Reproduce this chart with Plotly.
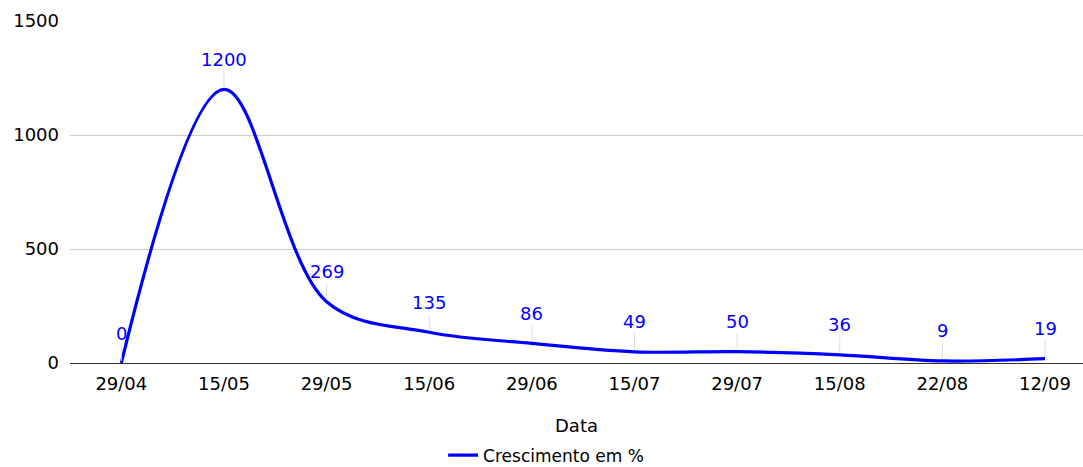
import plotly.graph_objects as go

categories = ["29/04", "15/05", "29/05", "15/06", "29/06", "15/07", "29/07", "15/08", "22/08", "12/09"]
values = [0, 1200, 269, 135, 86, 49, 50, 36, 9, 19]
series_name = "Crescimento em %"

FONT = "DejaVu Sans, Liberation Sans, Arial"

fig = go.Figure()
fig.add_trace(go.Scatter(
    x=categories, y=values, mode="lines", name=series_name,
    line=dict(color="#0000ff", width=3.2, shape="spline", smoothing=1.0),
    showlegend=True,
))

for c, v in zip(categories, values):
    fig.add_annotation(
        x=c, y=v, text=str(v), showarrow=True, arrowhead=0, arrowwidth=1,
        arrowcolor="#dddddd", ax=0, ay=-30, standoff=2,
        font=dict(color="#0000ff", size=18, family=FONT),
    )

fig.update_layout(
    width=1083, height=467,
    margin=dict(l=70, r=0, t=21, b=104, autoexpand=False),
    paper_bgcolor="white", plot_bgcolor="white",
    font=dict(family=FONT, size=18, color="#000000"),
    xaxis=dict(
        type="category", range=[-0.5, 9.37], automargin=False,
        showgrid=False, showline=True, linecolor="#333333", linewidth=1,
        ticks="", tickfont=dict(size=18), ticklabelstandoff=4,
        title=dict(text="Data", font=dict(size=18), standoff=26),
    ),
    yaxis=dict(
        range=[0, 1500], tickvals=[0, 500, 1000, 1500], automargin=False,
        showgrid=True, gridcolor="#cccccc", gridwidth=1,
        zeroline=False, ticks="", ticklabelstandoff=10,
        tickfont=dict(size=18),
    ),
    legend=dict(
        orientation="h", x=0.47, xanchor="center", y=-0.218, yanchor="top",
        font=dict(size=17), bgcolor="rgba(0,0,0,0)",
        tracegroupgap=0, itemwidth=30,
    ),
)

fig.write_html("out.html")
